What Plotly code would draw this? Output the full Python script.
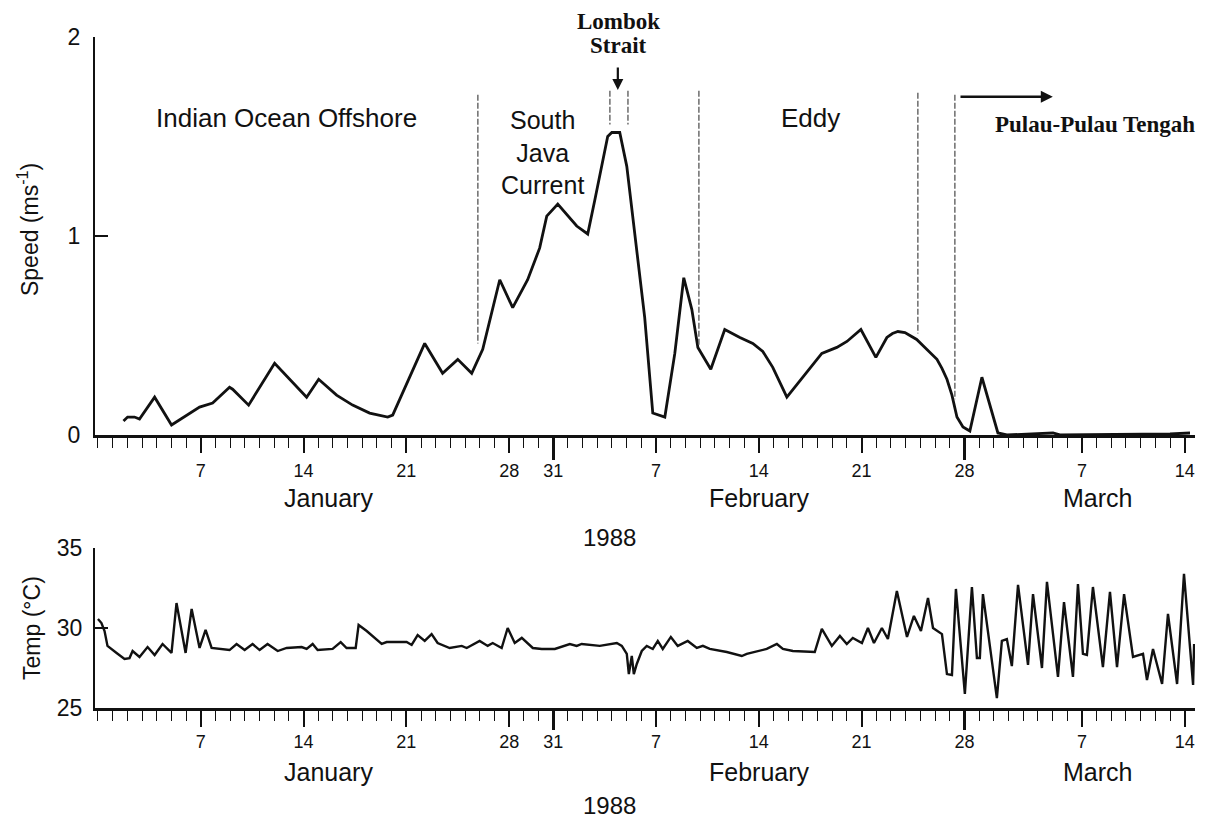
import plotly.graph_objects as go

# ---------------- data (day of year 1988, Jan 1 = 1) ----------------
speed_day = [1.74, 2.02, 2.49, 2.83, 3.86, 5.01, 6.92, 7.81, 8.96, 9.17, 10.26, 12.03,
             14.21, 15.03, 16.25, 17.34, 18.50, 19.73, 20.07, 22.25, 23.47, 24.50, 25.45,
             26.20, 27.36, 28.24, 29.26, 30.08, 30.56, 31.31, 32.60, 33.35, 33.83, 34.71,
             34.99, 35.53, 36.01, 36.55, 37.23, 37.78, 38.60, 39.28, 39.89, 40.44, 40.85,
             41.73, 42.68, 43.71, 44.59, 45.27, 45.95, 46.91, 48.00, 49.29, 50.31, 51.00,
             51.95, 52.97, 53.72, 54.10, 54.47, 54.95, 55.29, 55.75, 56.17, 56.65, 57.13,
             57.47, 57.81, 58.15, 58.49, 58.90, 59.37, 60.19, 61.28, 61.89, 65.03, 65.50,
             73.00, 74.36]
speed_ms = [0.07, 0.09, 0.09, 0.08, 0.19, 0.05, 0.14, 0.16, 0.24, 0.23, 0.15, 0.36,
            0.19, 0.28, 0.20, 0.15, 0.11, 0.09, 0.10, 0.46, 0.31, 0.38, 0.31,
            0.43, 0.78, 0.64, 0.78, 0.94, 1.10, 1.16, 1.05, 1.01, 1.18, 1.50,
            1.52, 1.52, 1.35, 1.02, 0.59, 0.11, 0.09, 0.41, 0.79, 0.63, 0.44,
            0.33, 0.53, 0.49, 0.46, 0.42, 0.34, 0.19, 0.29, 0.41, 0.44, 0.47,
            0.53, 0.39, 0.49, 0.51, 0.52, 0.515, 0.50, 0.48, 0.45, 0.415, 0.38,
            0.335, 0.28, 0.20, 0.09, 0.04, 0.02, 0.29, 0.01, 0.00, 0.01, 0.00,
            0.005, 0.01]

temp_day = [0.0, 0.24, 0.45, 0.65, 1.27, 1.81, 2.15, 2.36, 2.83, 3.38, 3.86, 4.40, 5.01,
            5.35, 5.97, 6.38, 6.92, 7.33, 7.74, 8.96, 9.44, 9.99, 10.53, 11.01, 11.55,
            12.24, 12.85, 13.87, 14.21, 14.62, 14.96, 15.98, 16.53, 16.93, 17.55, 17.75,
            18.30, 18.98, 19.32, 19.66, 21.02, 21.36, 21.77, 22.25, 22.72, 23.13, 23.95,
            24.77, 25.11, 25.99, 26.54, 26.88, 27.49, 27.90, 28.38, 28.86, 29.61, 30.22,
            31.11, 32.13, 32.60, 32.94, 34.17, 35.33, 35.67, 36.01, 36.15, 36.35, 36.49,
            36.69, 37.03, 37.37, 37.78, 38.12, 38.46, 39.01, 39.48, 40.16, 40.78, 41.19,
            41.66, 42.82, 43.84, 44.18, 45.54, 46.23, 46.64, 47.32, 48.81, 49.29, 49.97,
            50.52, 50.99, 51.40, 52.02, 52.43, 52.84, 53.38, 53.79, 54.40, 55.09, 55.56,
            56.04, 56.52, 56.86, 57.47, 57.81, 58.15, 58.42, 59.03, 59.51, 59.85, 60.05,
            60.26, 61.21, 61.55, 61.89, 62.23, 62.65, 63.33, 63.67, 64.28, 64.62, 65.37,
            65.78, 66.39, 66.73, 67.07, 67.34, 67.75, 68.43, 68.91, 69.39, 69.87, 70.48,
            71.16, 71.43, 71.84, 72.46, 72.86, 73.48, 73.95, 74.57, 74.64]
temp_c = [30.56, 30.31, 29.81, 28.88, 28.44, 28.06, 28.12, 28.56, 28.19, 28.81, 28.31, 29.0, 28.44,
          31.56, 28.44, 31.19, 28.75, 29.88, 28.75, 28.62, 29.0, 28.62, 29.0, 28.62, 29.0,
          28.56, 28.75, 28.81, 28.69, 29.0, 28.62, 28.69, 29.12, 28.75, 28.75, 30.19,
          29.81, 29.31, 29.0, 29.12, 29.12, 28.94, 29.56, 29.19, 29.62, 29.06, 28.75,
          28.88, 28.75, 29.19, 28.88, 29.06, 28.75, 30.0, 29.06, 29.38, 28.75, 28.69,
          28.69, 29.0, 28.88, 29.0, 28.88, 29.06, 28.88, 28.38, 27.12, 28.25, 27.12,
          27.75, 28.56, 28.88, 28.69, 29.19, 28.69, 29.44, 28.88, 29.19, 28.75, 28.88,
          28.69, 28.50, 28.25, 28.38, 28.69, 29.0, 28.69, 28.56, 28.50, 29.94, 28.88,
          29.5, 29.0, 29.38, 29.06, 30.0, 29.06, 30.0, 29.31, 32.31, 29.44, 30.75,
          29.81, 31.88, 30.0, 29.62, 27.12, 27.06, 32.44, 25.88, 32.56, 28.12, 28.12,
          32.12, 25.62, 29.19, 29.31, 27.62, 32.69, 27.69, 32.12, 27.5, 32.88, 26.94,
          31.62, 26.94, 32.75, 28.38, 28.31, 32.56, 27.56, 32.25, 27.56, 32.12, 28.19,
          28.38, 26.75, 28.69, 26.5, 30.88, 26.5, 33.38, 26.44, 29.0]

tick_days = [7, 14, 21, 28, 31, 38, 45, 52, 59, 67, 74]
tick_text = ["7", "14", "21", "28", "31", "7", "14", "21", "28", "7", "14"]
month_end_days = [31, 59]
months = ["January", "February", "March"]
month_label_days = [15.73, 45.07, 68.08]
year_label = "1988"

# region boundary markers (day, y from, y to)
bound_day = [25.87, 34.86, 36.09, 40.92, 55.83, 58.35]
bound_top = [1.71, 1.73, 1.73, 1.73, 1.72, 1.71]
bound_bot = [0.46, 1.56, 1.56, 0.45, 0.51, 0.18]

XR = [-0.2, 74.7]
SANS = "Liberation Sans, Arial, Helvetica, sans-serif"
SERIF = "Liberation Serif, Times New Roman, serif"
INK = "#111111"

fig = go.Figure()
fig.add_trace(go.Scatter(x=speed_day, y=speed_ms, mode="lines", xaxis="x", yaxis="y",
                         line=dict(color=INK, width=2.8), showlegend=False, hoverinfo="skip"))
fig.add_trace(go.Scatter(x=temp_day, y=temp_c, mode="lines", xaxis="x2", yaxis="y2",
                         line=dict(color=INK, width=2.4), showlegend=False, hoverinfo="skip"))
# carriers for the long month-end ticks
fig.add_trace(go.Scatter(x=[None], y=[None], xaxis="x3", yaxis="y", showlegend=False, hoverinfo="skip"))
fig.add_trace(go.Scatter(x=[None], y=[None], xaxis="x4", yaxis="y2", showlegend=False, hoverinfo="skip"))

def xaxis_common(anchor, minor_len, major_len, standoff):
    return dict(anchor=anchor, domain=[0, 1], range=XR, tickmode="array",
                tickvals=tick_days, ticktext=tick_text, ticks="outside", ticklen=major_len,
                tickwidth=1.6, tickcolor=INK, showline=True, linewidth=2.6, linecolor=INK,
                showgrid=False, zeroline=False, ticklabelstandoff=standoff,
                tickfont=dict(family=SANS, size=18, color=INK),
                minor=dict(tickmode="linear", tick0=0, dtick=1, ticks="outside",
                           ticklen=minor_len, tickwidth=1.4, tickcolor=INK, showgrid=False))

fig.update_layout(
    width=1219, height=825,
    margin=dict(l=95, r=24, t=37, b=117),
    paper_bgcolor="white", plot_bgcolor="white",
    xaxis=xaxis_common("y", 10, 15, 3),
    xaxis2=xaxis_common("y2", 10, 16, 0),
    xaxis3=dict(overlaying="x", anchor="y", range=XR, tickmode="array", tickvals=month_end_days,
                ticks="outside", ticklen=24, tickwidth=2.6, tickcolor=INK,
                showticklabels=False, showline=False, showgrid=False, zeroline=False),
    xaxis4=dict(overlaying="x2", anchor="y2", range=XR, tickmode="array", tickvals=month_end_days,
                ticks="outside", ticklen=21, tickwidth=2.6, tickcolor=INK,
                showticklabels=False, showline=False, showgrid=False, zeroline=False),
    yaxis=dict(domain=[0.4069, 1], range=[0, 2], tickvals=[0, 1, 2], ticks="inside", ticklen=13,
               tickwidth=2, tickcolor=INK, showline=True, linewidth=2.2, linecolor=INK,
               showgrid=False, zeroline=False, ticklabelstandoff=8,
               tickfont=dict(family=SANS, size=23, color=INK)),
    yaxis2=dict(domain=[0, 0.2385], range=[25, 35], tickvals=[25, 30, 35], ticks="inside",
                ticklen=13, tickwidth=2, tickcolor=INK, showline=True, linewidth=2.2,
                linecolor=INK, showgrid=False, zeroline=False, ticklabelstandoff=6,
                tickfont=dict(family=SANS, size=23, color=INK)),
)

# region boundaries
for d, y0, y1 in zip(bound_day, bound_top, bound_bot):
    fig.add_shape(type="line", xref="x", yref="y", x0=d, x1=d, y0=y0, y1=y1,
                  line=dict(color="#555555", width=1.3, dash="6px,2px"))

ann = []
def txt(text, x, y, xref="x", yref="y", size=25, family=SANS, angle=0):
    ann.append(dict(text=text, x=x, y=y, xref=xref, yref=yref, showarrow=False,
                    font=dict(family=family, size=size, color=INK), textangle=angle,
                    xanchor="center", yanchor="middle"))

txt("Indian Ocean Offshore", 12.87, 1.593, size=26)
txt("South<br>Java<br>Current", 30.3, 1.42, size=25)
txt("Eddy", 48.5, 1.593, size=26)
txt("<b>Lombok</b>", 35.45, 1.0238, yref="paper", size=23, family=SERIF)
txt("<b>Strait</b>", 35.45, 0.9866, yref="paper", size=23, family=SERIF)
txt("<b>Pulau-Pulau Tengah</b>", 67.9, 1.56, size=23, family=SERIF)

# arrows
ann.append(dict(x=35.40, y=1.734, xref="x", yref="y", ax=0, ay=-24, showarrow=True,
                arrowhead=2, arrowsize=1, arrowwidth=2.2, arrowcolor=INK, text=""))
ann.append(dict(x=65.02, y=1.70, xref="x", yref="y", ax=58.63, ay=1.70, axref="x", ayref="y",
                showarrow=True, arrowhead=2, arrowsize=1, arrowwidth=2.4, arrowcolor=INK, text=""))

# month / year labels (paper y, below each panel)
for m, d in zip(months, month_label_days):
    txt(m, d, 0.313, yref="paper", size=25)
    txt(m, d, -0.0954, yref="paper", size=25)
txt(year_label, 34.86, 0.2534, yref="paper", size=24)
txt(year_label, 34.86, -0.1446, yref="paper", size=24)

# axis titles
txt("Speed (ms<sup>-1</sup>)", -0.0609, 1.03, xref="paper", size=23, angle=-90)
txt("Temp (°C)", -0.0573, 30, xref="paper", yref="y2", size=23, angle=-90)

fig.update_layout(annotations=ann)
fig.write_html("out.html", config={"displayModeBar": False},
               post_script="document.body.style.margin='0';")
